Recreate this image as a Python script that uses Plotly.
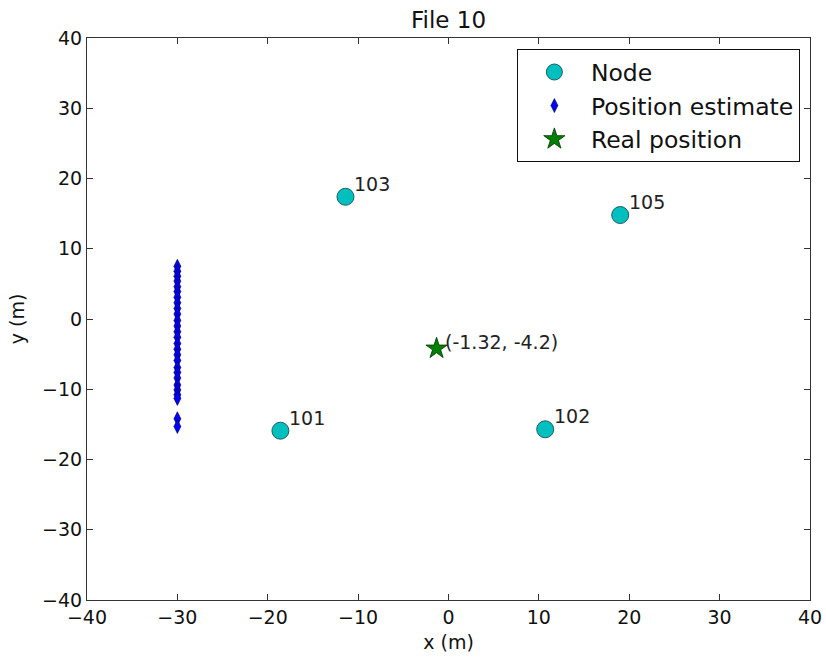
import plotly.graph_objects as go

node_x = [-18.6, 10.7, -11.4, 19.0]
node_y = [-15.9, -15.7, 17.4, 14.8]
node_labels = ["101", "102", "103", "105"]

est_x = [-30.0] * 27
est_y = [7.5, 6.8, 6.1, 5.4, 4.6, 3.9, 3.1, 2.3, 1.5, 0.7, -0.2, -1.0, -1.8, -2.6,
         -3.5, -4.3, -5.1, -5.9, -6.9, -7.6, -8.4, -9.4, -10.1, -10.8, -11.3, -14.2, -15.3]

real_x = [-1.32]
real_y = [-4.2]
real_label = "(-1.32, -4.2)"

font_family = "DejaVu Sans"

W, H = 826, 659

fig = go.Figure()
fig.add_trace(go.Scatter(
    x=node_x, y=node_y, mode="markers", name="Node", legendgroup="a",
    marker=dict(symbol="circle", size=17, color="#00BFBF",
                line=dict(color="#1f5f5f", width=1)),
))
fig.add_trace(go.Scatter(
    x=est_x, y=est_y, mode="markers", name="Position estimate", legendgroup="b",
    marker=dict(symbol="diamond-tall", size=10, color="#0000FF",
                line=dict(color="#000033", width=0.6)),
))
fig.add_trace(go.Scatter(
    x=real_x, y=real_y, mode="markers", name="Real position", legendgroup="c",
    marker=dict(symbol="star", size=16, color="#007F00",
                line=dict(color="#003300", width=0.8)),
))

for x, y, t in zip(node_x, node_y, node_labels):
    fig.add_annotation(x=x, y=y, text=t, showarrow=False, xanchor="left",
                       yanchor="bottom", xshift=7, yshift=0,
                       font=dict(family=font_family, size=19, color="#222"))
fig.add_annotation(x=real_x[0], y=real_y[0], text=real_label, showarrow=False,
                   xanchor="left", yanchor="bottom", xshift=6, yshift=-6,
                   font=dict(family=font_family, size=19, color="#222"))

axis_common = dict(
    showgrid=False, zeroline=False, showline=True, linecolor="#333", linewidth=1,
    mirror="allticks", ticks="inside", ticklen=6, tickcolor="#333",
    tickfont=dict(family=font_family, size=19, color="#111"), dtick=10,
    automargin=False,
)
fig.update_xaxes(range=[-40, 40], title=dict(text="x (m)", standoff=8,
                 font=dict(family=font_family, size=19, color="#111")),
                 tick0=-40, **axis_common)
fig.update_yaxes(range=[-40, 40], title=dict(text="y (m)", standoff=12,
                 font=dict(family=font_family, size=19, color="#111")),
                 tick0=-40, **axis_common)

fig.update_layout(
    width=W, height=H,
    margin=dict(l=87, r=16, t=38, b=59, autoexpand=False),
    paper_bgcolor="white", plot_bgcolor="white",
    title=dict(text="File 10", x=0.5, xref="paper", y=1 - 20 / H, yref="container",
               yanchor="middle",
               font=dict(family=font_family, size=23, color="#111")),
    legend=dict(x=0.986, y=0.98, xanchor="right", yanchor="top",
                bordercolor="#111", borderwidth=1, bgcolor="white",
                font=dict(family=font_family, size=23.5, color="#111"),
                itemwidth=63, tracegroupgap=0),
    showlegend=True,
)

fig.write_html(
    "out.html",
    config={"displayModeBar": False},
    post_script="document.body.style.margin='0';document.body.style.overflow='hidden';",
)
